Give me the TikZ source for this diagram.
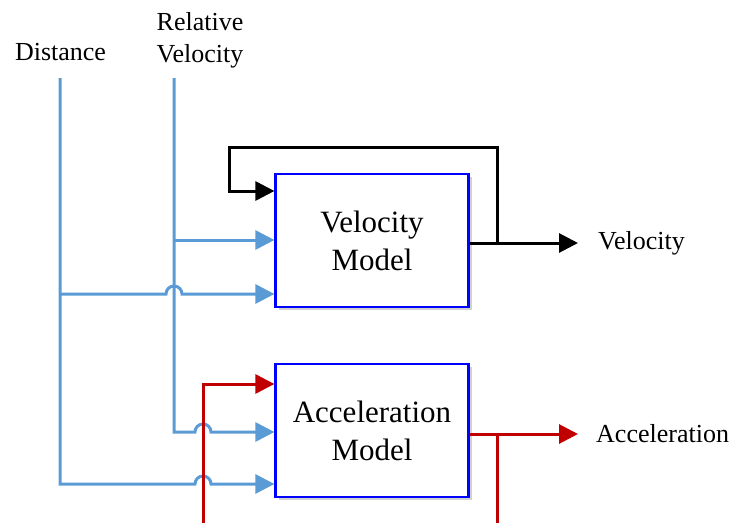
\documentclass[tikz,border=0pt]{standalone}
\usepackage{fontspec}
\setmainfont{Liberation Serif}
\usetikzlibrary{arrows.meta,shadows,calc,positioning}

\definecolor{lineblue}{RGB}{91,155,213}
\definecolor{linered}{RGB}{192,0,0}

\begin{document}
\begin{tikzpicture}[x=1pt, y=1pt,
    model/.style={draw=blue, line width=2.2pt, fill=white, minimum width=193pt, minimum height=133pt,
      align=center, font=\fontsize{31}{38}\selectfont,
      drop shadow={shadow xshift=3pt, shadow yshift=-3pt, fill=black!30, opacity=0.6}},
    lbl/.style={font=\fontsize{26}{32}\selectfont, align=center, inner sep=0pt},
    wire/.style={line width=3pt},
    sig/.style={wire, -{Triangle[length=19pt,width=19pt]}},
    blue_sig/.style={sig, lineblue},
    red_sig/.style={sig, linered},
    red_wire/.style={wire, linered},
    black_sig/.style={sig, black}]
  \useasboundingbox (0,0) rectangle (731,-523);
  % the two models
  \node[model] (vel_m) at (372,-240.5) {Velocity\\Model};
  \node[model] (acc_m) at (372,-430.5) {Acceleration\\Model};
  % inputs and outputs
  \node[lbl] (dist) at (60.5,-52) {Distance};
  \node[lbl] (rel_v) at (200,-40) {Relative\\Velocity};
  \coordinate (d_top) at (60,-78);
  \coordinate (r_top) at (174,-78);
  \coordinate (v_tip) at (578,-243);
  \coordinate (a_tip) at (578,-434);
  \node[lbl, anchor=west] (v_lbl) at (598,-243) {Velocity};
  \node[lbl, anchor=west] (a_lbl) at (596,-434) {Acceleration};
  % blue inputs
  \draw[blue_sig] (r_top) -- (174,-432) -- (195,-432) arc (180:0:8) -- (acc_m.west |- 0,-432);
  \draw[blue_sig] (174,-240) -- (vel_m.west |- 0,-240);
  \draw[blue_sig] (d_top) -- (60,-484) -- (195,-484) arc (180:0:8) -- (acc_m.west |- 0,-484);
  \draw[blue_sig] (60,-294) -- (166,-294) arc (180:0:8) -- (vel_m.west |- 0,-294);
  % acceleration loop
  \draw[red_sig] (203,-523) |- (acc_m.west |- 0,-384);
  \draw[red_sig] (acc_m.east |- 0,-434) -- (a_tip);
  \draw[red_wire] (497,-434) -- (497,-523);
  % velocity feedback
  \draw[black_sig] (vel_m.east |- 0,-243) -- (v_tip);
  \draw[black_sig] (497,-243) |- (229,-147) |- (vel_m.west |- 0,-191);
\end{tikzpicture}
\end{document}
